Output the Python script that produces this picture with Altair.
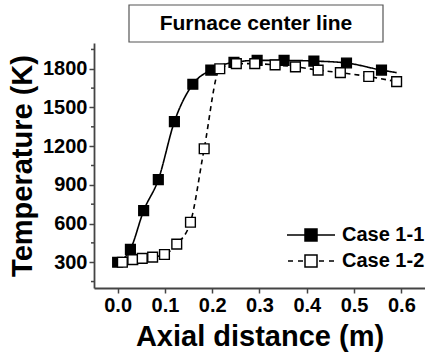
import altair as alt
import pandas as pd

FONT = "Liberation Sans"

# ---- data ----
series_names = ["Case 1-1", "Case 1-2"]

case1_x = [0.0, 0.027, 0.055, 0.086, 0.12, 0.159, 0.197, 0.246, 0.295, 0.352, 0.415, 0.484, 0.558]
case1_y = [300, 400, 700, 940, 1390, 1680, 1790, 1850, 1865, 1865, 1860, 1845, 1790]
case1_line_end_x = [0.59]
case1_line_end_y = [1770]

case2_x = [0.01, 0.032, 0.052, 0.074, 0.099, 0.125, 0.154, 0.183, 0.216, 0.251,
           0.29, 0.333, 0.376, 0.424, 0.471, 0.531, 0.59]
case2_y = [300, 320, 330, 340, 360, 440, 610, 1180, 1800, 1840,
           1840, 1830, 1815, 1790, 1770, 1740, 1700]

x_ticks = [0.0, 0.1, 0.2, 0.3, 0.4, 0.5, 0.6]
y_ticks = [300, 600, 900, 1200, 1500, 1800]
y_minor = [150, 450, 750, 1050, 1350, 1650, 1950]
title_text = "Furnace center line"

# ---- tables ----
point_df = pd.DataFrame(
    {"x": case1_x + case2_x,
     "y": case1_y + case2_y,
     "series": [series_names[0]] * len(case1_x) + [series_names[1]] * len(case2_x)}
)
line_df = pd.DataFrame(
    {"x": case1_x + case1_line_end_x + case2_x,
     "y": case1_y + case1_line_end_y + case2_y,
     "series": [series_names[0]] * (len(case1_x) + len(case1_line_end_x))
               + [series_names[1]] * len(case2_x)}
)
minor_df = pd.DataFrame({"v": y_minor})

xscale = alt.Scale(domain=[-0.05, 0.65], nice=False, zero=False)
yscale = alt.Scale(domain=[100, 2000], nice=False, zero=False)
fill_range = ["black", "white"]
dash_range = [[1, 0], [5, 4]]

# legend glyphs: line + square (solid) and dashed line + square
path_solid = "M-2.4,0H-0.6M0.6,0H2.4M-0.6,-0.6H0.6V0.6H-0.6Z"
path_dash = ("M-2.3,0H-1.8M-1.3,0H-0.8M0.8,0H1.3M1.8,0H2.3"
             "M-0.6,-0.6H0.6V0.6H-0.6Z")

AX_COLOR = "#444444"
common_axis = dict(
    grid=False, domainColor=AX_COLOR, domainWidth=1.8, tickColor=AX_COLOR,
    tickWidth=1.5, labelFont=FONT, labelFontSize=20, labelFontWeight="bold",
    labelColor="black", titleFont=FONT, titleFontWeight="bold",
    titleColor="black",
)

xaxis = alt.Axis(values=x_ticks, format=".1f", tickSize=5, labelPadding=2,
                 title="Axial distance (m)", titlePadding=7, titleFontSize=29, **common_axis)
yaxis = alt.Axis(values=y_ticks, format="d", tickSize=5, labelPadding=2,
                 title="Temperature (K)", titlePadding=5, titleFontSize=29, **common_axis)

legend = alt.Legend(
    title=None, orient="none", legendX=206, legendY=181, padding=0,
    symbolSize=400, labelOffset=20, rowPadding=5,
    labelFont=FONT, labelFontSize=20, labelFontWeight="bold", labelColor="black",
    symbolStrokeColor="black", symbolStrokeWidth=1.5, symbolOpacity=1,
)

layers = []
for i, name in enumerate(series_names):
    axes = dict(axis=xaxis) if i == 0 else {}
    yaxes = dict(axis=yaxis) if i == 0 else {}
    layers.append(
        alt.Chart(line_df).transform_filter(alt.datum.series == name).mark_line(
            color="black", strokeWidth=1.6, interpolate="monotone", strokeDash=dash_range[i]
        ).encode(
            x=alt.X("x:Q", scale=xscale, **axes),
            y=alt.Y("y:Q", scale=yscale, **yaxes),
        )
    )
for i, name in enumerate(series_names):
    layers.append(
        alt.Chart(point_df).transform_filter(alt.datum.series == name).mark_point(
            shape="square", size=95, filled=True, fill=fill_range[i], stroke="black",
            strokeWidth=1.4, opacity=1
        ).encode(
            x=alt.X("x:Q", scale=xscale),
            y=alt.Y("y:Q", scale=yscale),
        )
    )

# layer with no visible marks that only carries the legend
guide = alt.Chart(point_df).transform_filter(alt.datum.x > 100).mark_point(
    filled=True, stroke="black", strokeWidth=1.5, opacity=1
).encode(
    x=alt.X("x:Q", scale=xscale),
    y=alt.Y("y:Q", scale=yscale),
    fill=alt.Fill("series:N", scale=alt.Scale(domain=series_names, range=fill_range), legend=legend),
    stroke=alt.Stroke("series:N", scale=alt.Scale(domain=series_names, range=["black", "black"]),
                      legend=legend),
    shape=alt.Shape("series:N", scale=alt.Scale(domain=series_names, range=[path_solid, path_dash]),
                    legend=legend),
)

# minor ticks on the y axis
minor = alt.Chart(minor_df).mark_rule(color=AX_COLOR, strokeWidth=1.5).encode(
    y=alt.Y("v:Q", scale=yscale),
    x=alt.value(-3), x2=alt.value(0),
)

box_data = alt.Data(values=[{"t": title_text}])
title_box = alt.Chart(box_data).mark_rect(fill="white", stroke="#555555", strokeWidth=1.2).encode(
    x=alt.value(35), x2=alt.value(289), y=alt.value(-38), y2=alt.value(-1)
)
title_txt = alt.Chart(box_data).mark_text(font=FONT, fontSize=21, fontWeight="bold", color="black",
                                          align="center", baseline="middle").encode(
    x=alt.value(162), y=alt.value(-19), text="t:N"
)

chart = alt.layer(title_box, title_txt, *layers, guide, minor).properties(
    width=331, height=245,
    padding={"left": 94, "top": 43, "right": 0, "bottom": 66},
    autosize="none",
).configure_view(strokeWidth=0)

chart.save("out.html", embed_options={"renderer": "svg", "actions": False})
